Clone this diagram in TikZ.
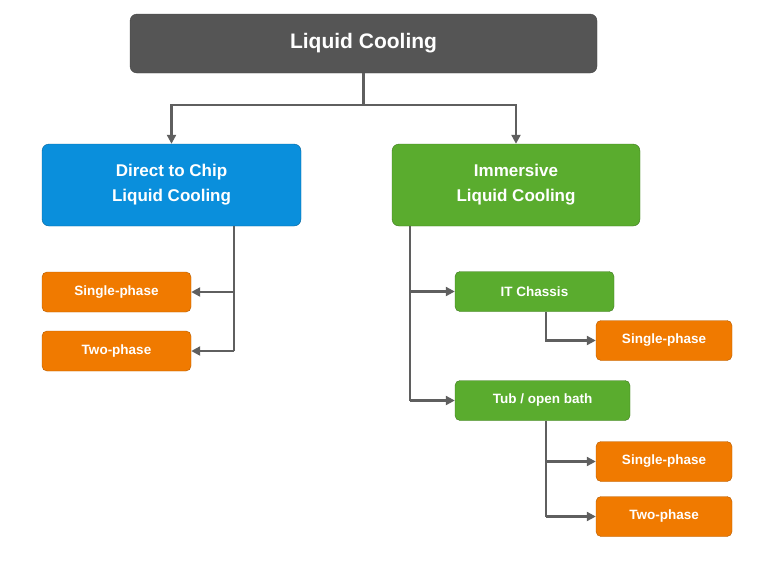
\documentclass[tikz,border=0pt]{standalone}
\usepackage{fontspec}
\setmainfont{Liberation Sans}
\usetikzlibrary{arrows.meta}
\definecolor{tgray}{HTML}{555555}
\definecolor{tblue}{HTML}{0A8FDC}
\definecolor{tgreen}{HTML}{5AAC2E}
\definecolor{torange}{HTML}{F07A00}
\definecolor{lgray}{HTML}{5F5F5F}
\begin{document}
\begin{tikzpicture}[x=1pt,y=-1pt,
  box/.style={rounded corners=7pt,text=white,font=\bfseries,align=center,inner sep=0pt},
  conn/.style={draw=lgray,line width=2.2pt},
  arr/.style={conn,-{Triangle[length=9pt,width=9pt]}}]
\useasboundingbox (0,0) rectangle (768,576);
\node[box,fill=tgray,draw=tgray!80!black,minimum width=467pt,minimum height=59pt,font=\bfseries\fontsize{21}{24}\selectfont] (root) at (363.5,43.5) {Liquid Cooling};
\node[box,fill=tblue,draw=tblue!70!black,minimum width=259pt,minimum height=82pt,font=\bfseries\fontsize{17}{25}\selectfont] (dtc) at (171.5,185) {Direct to Chip\\Liquid Cooling};
\node[box,fill=tgreen,draw=tgreen!70!black,minimum width=248pt,minimum height=82pt,font=\bfseries\fontsize{17}{25}\selectfont] (imm) at (516,185) {Immersive\\Liquid Cooling};
\tikzset{small/.style={box,rounded corners=5pt,minimum height=40pt,font=\bfseries\fontsize{13.5}{16}\selectfont}}
\node[small,fill=torange,draw=torange!75!black,minimum width=149pt] (s1) at (116.5,292) {Single-phase};
\node[small,fill=torange,draw=torange!75!black,minimum width=149pt] (t1) at (116.5,351) {Two-phase};
\node[small,fill=tgreen,draw=tgreen!70!black,minimum width=159pt] (itc) at (534.5,291.5) {IT Chassis};
\node[small,fill=tgreen,draw=tgreen!70!black,minimum width=175pt] (tub) at (542.5,400.5) {Tub / open bath};
\node[small,fill=torange,draw=torange!75!black,minimum width=136pt] (s2) at (664,340.5) {Single-phase};
\node[small,fill=torange,draw=torange!75!black,minimum width=136pt] (s3) at (664,461.5) {Single-phase};
\node[small,fill=torange,draw=torange!75!black,minimum width=136pt] (t3) at (664,516.5) {Two-phase};
\coordinate (j) at (363.5,105);
\draw[conn] (root.south) -- (j);
\draw[arr] (j) -| (dtc.north);
\draw[arr] (j) -| (imm.north);
\coordinate (d0) at (234,226);
\draw[conn] (d0) -- (234,351);
\draw[arr] (234,292) -- (s1.east);
\draw[arr] (234,351) -- (t1.east);
\coordinate (i0) at (410,226);
\draw[conn] (i0) -- (410,400.5);
\draw[arr] (410,291.5) -- (itc.west);
\draw[arr] (410,400.5) -- (tub.west);
\draw[arr] (546,311.5) |- (s2.west);
\draw[conn] (546,420.5) -- (546,516.5);
\draw[arr] (546,461.5) -- (s3.west);
\draw[arr] (546,516.5) -- (t3.west);
\end{tikzpicture}
\end{document}
